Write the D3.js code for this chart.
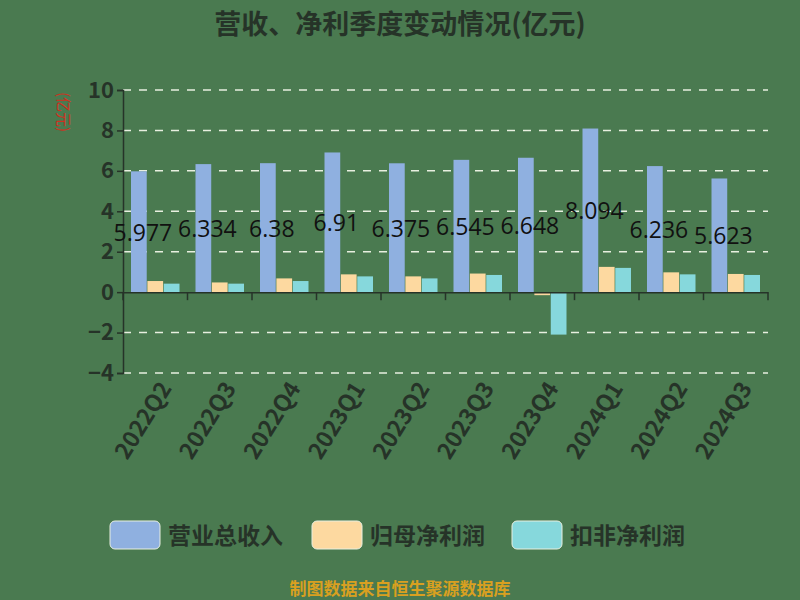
<!DOCTYPE html>
<html><head><meta charset="utf-8">
<script src="https://cdn.jsdelivr.net/npm/d3@7"></script>
<style>body{margin:0;background:#4a7a50}</style>
</head><body>
<svg id="chart" width="800" height="600"></svg>
<script>
const quarters = ['2022Q2','2022Q3','2022Q4','2023Q1','2023Q2','2023Q3','2023Q4','2024Q1','2024Q2','2024Q3'];
const revenue = [5.977, 6.334, 6.38, 6.91, 6.375, 6.545, 6.648, 8.094, 6.236, 5.623];
const netProfit = [0.55, 0.48, 0.68, 0.88, 0.78, 0.92, -0.15, 1.25, 0.98, 0.90];
const deducted = [0.42, 0.42, 0.55, 0.78, 0.68, 0.85, -2.1, 1.2, 0.88, 0.85];
const seriesNames = ['营业总收入', '归母净利润', '扣非净利润'];
const colors = ['#8fb0e0', '#fdd9a0', '#86d8dc'];
const yTicks = [-4, -2, 0, 2, 4, 6, 8, 10];

const font = '"Noto Sans CJK SC", "Noto Sans", sans-serif';
const ink = '#263328';
const svg = d3.select('#chart').style('font-family', font);
svg.append('rect').attr('width', 800).attr('height', 600).attr('fill', '#4a7a50');

const x = d3.scaleBand().domain(quarters).range([123, 768]);
const y = d3.scaleLinear().domain([-4, 10]).range([373, 90]);
const inner = d3.scaleBand().domain([0, 1, 2]).range([8, x.bandwidth() - 8]).paddingInner(0.04);

svg.append('text').attr('x', 400).attr('y', 34).attr('text-anchor', 'middle')
    .attr('font-size', 27).attr('font-weight', 'bold').attr('fill', ink)
    .text('营收、净利季度变动情况(亿元)');

// grid
svg.append('g').selectAll('line').data(yTicks.filter(d => d !== 0)).join('line')
    .attr('x1', 123).attr('x2', 768).attr('y1', y).attr('y2', y)
    .attr('stroke', '#e8efe0').attr('stroke-width', 1.5).attr('stroke-dasharray', '8,8');

const yAxis = svg.append('g').attr('transform', 'translate(123,0)')
    .call(d3.axisLeft(y).tickValues(yTicks).tickSize(6).tickPadding(3));
yAxis.selectAll('text').attr('font-size', 22).attr('font-weight', 'bold').attr('fill', ink).attr('font-family', font);
yAxis.selectAll('line,path').attr('stroke', ink).attr('stroke-width', 1.5);

svg.append('text').attr('transform', 'translate(58,112) rotate(90)').attr('text-anchor', 'middle')
    .attr('font-size', 15).attr('fill', '#d03020').text('(亿元)');

const data = quarters.map((q, i) => ({q, v: [revenue[i], netProfit[i], deducted[i]]}));
const g = svg.append('g').selectAll('g').data(data).join('g')
    .attr('transform', d => `translate(${x(d.q)},0)`);
g.selectAll('rect').data(d => d.v.map((v, k) => ({v, k}))).join('rect')
    .attr('x', d => inner(d.k)).attr('width', inner.bandwidth())
    .attr('y', d => y(Math.max(0, d.v))).attr('height', d => Math.abs(y(d.v) - y(0)))
    .attr('fill', d => colors[d.k]);

// x axis at zero
const xAxis = svg.append('g').attr('transform', `translate(0,${y(0)})`)
    .call(d3.axisBottom(x).tickSize(0).tickFormat(''));
xAxis.select('path').attr('stroke', ink).attr('stroke-width', 1.5);
svg.append('g').selectAll('line').data(d3.range(quarters.length + 1)).join('line')
    .attr('x1', i => 123 + i * x.step()).attr('x2', i => 123 + i * x.step())
    .attr('y1', y(0)).attr('y2', y(0) + 8).attr('stroke', ink).attr('stroke-width', 1.5);

svg.append('g').selectAll('text').data(quarters).join('text')
    .attr('transform', d => `translate(${x(d) + x.bandwidth() / 2 + 12},${385}) rotate(-58)`)
    .attr('text-anchor', 'end').attr('dominant-baseline', 'middle')
    .attr('font-size', 23).attr('font-weight', 'bold').attr('fill', ink).text(d => d);

// value labels
svg.append('g').selectAll('text').data(data).join('text')
    .attr('x', d => x(d.q) + inner(0) + inner.bandwidth() / 2 + 4)
    .attr('y', d => y(d.v[0] / 2) + 9).attr('text-anchor', 'middle')
    .attr('font-size', 23).attr('fill', '#111').attr('font-family', '"Open Sans", sans-serif')
    .text(d => d.v[0]);

// legend
const legendX = [110, 312, 512];
const lg = svg.append('g').selectAll('g').data(seriesNames).join('g')
    .attr('transform', (d, i) => `translate(${legendX[i]},521)`);
lg.append('rect').attr('width', 50).attr('height', 28).attr('rx', 5)
    .attr('fill', (d, i) => colors[i]).attr('stroke', '#e8efe0').attr('stroke-width', 1);
lg.append('text').attr('x', 58).attr('y', 23).attr('font-size', 23).attr('font-weight', 'bold')
    .attr('fill', ink).text(d => d);

svg.append('text').attr('x', 400).attr('y', 595).attr('text-anchor', 'middle')
    .attr('font-size', 17).attr('font-weight', 'bold').attr('fill', '#d9a020').text('制图数据来自恒生聚源数据库');
</script>
</body></html>
